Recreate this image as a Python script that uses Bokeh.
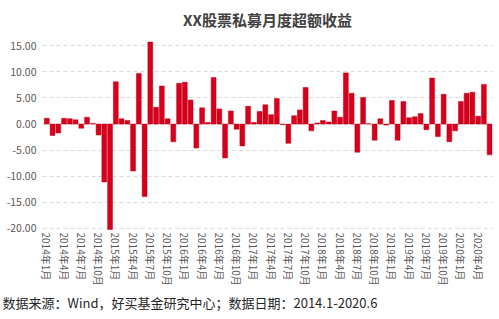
from bokeh.plotting import figure
from bokeh.models import ColumnDataSource, FixedTicker, NumeralTickFormatter, Title, Range1d
from bokeh.embed import file_html
from bokeh.resources import INLINE

# Monthly excess return (%) 2014.1 - 2020.6
r2014 = [1.1, -2.2, -1.7, 1.1, 1.0, 0.8, -0.8, 1.3, 0.1, -2.1, -11.1, -20.2]
r2015 = [8.1, 1.0, 0.7, -9.0, 9.7, -13.9, 15.7, 3.2, 7.3, 1.0, -3.4, 7.8]
r2016 = [8.0, 4.6, -4.6, 3.1, 0.3, 8.9, 2.9, -6.5, 2.5, -1.0, -4.2, 3.4]
r2017 = [0.3, 2.4, 3.7, 1.8, 4.9, -0.1, -3.7, 1.6, 2.7, 7.0, -1.3, 0.2]
r2018 = [0.7, 0.4, 2.5, 1.3, 9.8, 5.9, -5.4, 5.1, 0.05, -3.1, 1.0, -0.2]
r2019 = [4.5, -3.1, 4.3, 1.2, 1.4, 2.0, -1.1, 8.8, -2.4, 5.7, -3.4, -1.3]
r2020 = [4.3, 5.9, 6.1, 1.5, 7.6, -5.9]

values = r2014 + r2015 + r2016 + r2017 + r2018 + r2019 + r2020
months = [f"{2014 + i // 12}年{i % 12 + 1}月" for i in range(len(values))]
tick_idx = list(range(0, len(values), 3))
y_ticks = [-20, -15, -10, -5, 0, 5, 10, 15]

title_text = "XX股票私募月度超额收益"
footer_text = "数据来源：Wind，好买基金研究中心；数据日期：2014.1-2020.6"

FONT = "Noto Sans CJK SC"

src = ColumnDataSource(dict(x=list(range(len(values))), v=values, m=months))

p = figure(width=499, height=319, output_backend="svg", toolbar_location=None,
           x_range=Range1d(-0.75, 77.5), y_range=Range1d(-20.4, 16.2),
           min_border_left=42, min_border_right=7, min_border_top=38, min_border_bottom=89,
           background_fill_color="white", border_fill_color="white")
p.outline_line_color = None

p.vbar(x="x", top="v", width=0.85, source=src, fill_color="#D6001C", line_color="#C00018", line_width=0.5)

# Axes
p.xaxis.ticker = FixedTicker(ticks=tick_idx)
p.xaxis.major_label_overrides = {i: months[i] for i in tick_idx}
p.xaxis.major_label_orientation = "vertical"
p.xaxis.axis_line_color = None
p.xaxis.major_tick_line_color = None
p.xaxis.minor_tick_line_color = None
p.xaxis.major_tick_out = 0
p.xaxis.major_tick_in = 0
p.xaxis.minor_tick_out = 0
p.xaxis.minor_tick_in = 0
p.xaxis.major_label_text_font = FONT
p.xaxis.major_label_text_font_size = "10px"
p.xaxis.major_label_text_color = "#595959"
p.xaxis.major_label_standoff = 2

p.yaxis.ticker = FixedTicker(ticks=y_ticks)
p.yaxis.formatter = NumeralTickFormatter(format="0.00")
p.yaxis.axis_line_color = None
p.yaxis.major_tick_line_color = None
p.yaxis.minor_tick_line_color = None
p.yaxis.major_tick_out = 0
p.yaxis.major_tick_in = 0
p.yaxis.minor_tick_out = 0
p.yaxis.minor_tick_in = 0
p.yaxis.major_label_text_font = FONT
p.yaxis.major_label_text_font_size = "10.5px"
p.yaxis.major_label_text_color = "#595959"
p.yaxis.major_label_standoff = 6

p.xgrid.grid_line_color = None
p.ygrid.grid_line_color = "#D9D9D9"
p.ygrid.grid_line_dash = "4 3"
p.ygrid.grid_line_width = 1

p.title = Title(text=title_text, align="center", offset=-15, standoff=16,
                vertical_align="top", text_line_height=0.6,
                text_font=FONT, text_font_size="15px", text_font_style="bold",
                text_color="#404040")

footer = Title(text=footer_text, align="left", offset=-40, standoff=4,
               text_font=FONT, text_font_size="13px", text_font_style="normal",
               text_color="#262626")
p.add_layout(footer, "below")

open("out.html", "w").write(file_html(p, INLINE))
